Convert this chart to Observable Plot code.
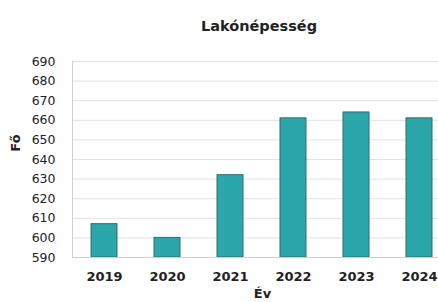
<!DOCTYPE html>
<html><head><meta charset="utf-8">
<script src="https://cdn.jsdelivr.net/npm/d3@7"></script>
<script src="https://cdn.jsdelivr.net/npm/@observablehq/plot@0.6"></script>
<style>
html,body{margin:0;padding:0;background:#fff;overflow:hidden;width:438px;height:302px}
#title{height:45px;width:438px;box-sizing:border-box;padding-left:80px;text-align:center;font:bold 14.5px "DejaVu Sans",sans-serif;color:#222;line-height:52px}
svg{display:block;font-family:"DejaVu Sans",sans-serif}
</style></head><body>
<div id="title">Lakónépesség</div>
<div id="chart"></div>
<script>
const years = ["2019","2020","2021","2022","2023","2024"];
const population = [607, 600, 632, 661, 664, 661];
const yTicks = [590,600,610,620,630,640,650,660,670,680,690];
const yMin = 590, yMax = 690;
const data = years.map((y,i)=>({year:y, value:population[i]}));

const chart = Plot.plot({
  width: 438, height: 257,
  marginTop: 16, marginBottom: 45, marginLeft: 72, marginRight: 0,
  style: {fontSize: "12px", color: "#222", fontFamily: "'DejaVu Sans', sans-serif", overflow: "hidden"},
  x: {domain: years, range: [72, 451], paddingInner: 0.59, paddingOuter: 0.295, label: null},
  y: {domain: [yMin, yMax], ticks: yTicks, label: null},
  marks: [
    Plot.gridY(yTicks, {stroke: "#e2e2e2", strokeOpacity: 1}),
    Plot.barY(data, {x: "year", y1: () => yMin, y2: "value", fill: "#2ba6aa", stroke: "#2f6e6f", strokeWidth: 1}),
    Plot.axisY(yTicks, {tickSize: 0, tickPadding: 17, fontSize: 12.5, fill: "#222", label: null}),
    Plot.axisX({tickSize: 0, tickPadding: 14, fontSize: 13, fontWeight: "bold", fill: "#222", label: null}),
    Plot.ruleY([yMin], {stroke: "#cfcfcf"}),
    Plot.frame({anchor: "left", stroke: "#cfcfcf"}),
    Plot.text(["Fő"], {y: () => 644, frameAnchor: "left", dx: -57, rotate: -90, fontSize: 13, fontWeight: "bold", fill: "#222"}),
    Plot.text(["Év"], {frameAnchor: "bottom", dx: 7, dy: 40, fontSize: 13, fontWeight: "bold", fill: "#222"})
  ]
});
document.getElementById("chart").append(chart);
</script>
</body></html>
